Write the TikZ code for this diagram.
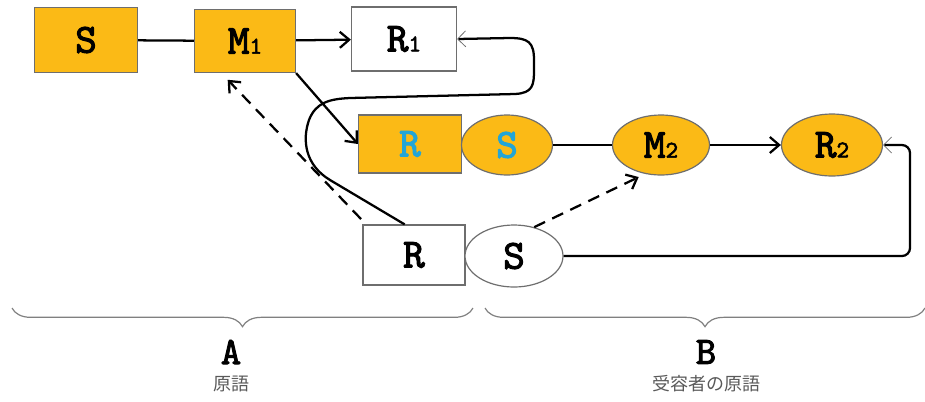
\documentclass[tikz,border=0pt]{standalone}
\usepackage{fontspec}
\newfontfamily\labfont{lmmono10-regular.otf}[FakeBold=2.5]
\newfontfamily\jpfont{Noto Sans CJK JP}
\usetikzlibrary{arrows.meta,shapes.geometric,decorations.pathreplacing,calc}
\definecolor{gold}{RGB}{251,186,22}
\definecolor{edge}{RGB}{110,110,110}
\definecolor{cyantext}{RGB}{35,165,215}
\newcommand{\lab}[2]{{\labfont #1{\fontsize{18}{18}\selectfont #2}}}
\tikzset{
  every node/.style={font=\labfont\fontsize{31}{31}\selectfont},
  fbox/.style={draw=edge, line width=0.9pt, rectangle, minimum width=#1*0.75pt, inner sep=0pt},
  ebox/.style={draw=edge, line width=0.9pt, ellipse, inner sep=0pt},
  link/.style={line width=1.7pt, black},
  barb/.style={-{Straight Barb[length=7pt,width=12pt,line width=1.7pt]}},
  thinbarb/.style={-{Straight Barb[length=6pt,width=12pt,line width=0.6pt,color=edge]}},
  brace/.style={decorate, decoration={brace, mirror, amplitude=14pt}, draw=gray, line width=0.9pt},
  captext/.style={font=\labfont\fontsize{29}{29}\selectfont},
  jp/.style={font=\jpfont\fontsize{13.5}{13.5}\selectfont, text=gray!70!black}
}
\begin{document}
\begin{tikzpicture}[x=0.75pt,y=-0.75pt]
\useasboundingbox (0,0) rectangle (925,401);
% source row
\node[fbox=103, fill=gold, minimum height=65*0.75pt] (S) at (86,40) {S};
\node[fbox=101, fill=gold, minimum height=63*0.75pt] (M1) at (245,41) {\lab{M}{1}};
\node[fbox=105, fill=white, minimum height=64*0.75pt] (R1) at (404,39) {\lab{R}{1}};
% receptor's source pair
\node[fbox=103, fill=gold, minimum height=58*0.75pt] (Ro) at (410,144) {\textcolor{cyantext}{R}};
\node[ebox, fill=gold, minimum width=91*0.75pt, minimum height=60*0.75pt] (So) at (507,145) {\textcolor{cyantext}{S}};
\node[ebox, fill=gold, minimum width=97*0.75pt, minimum height=60*0.75pt] (M2) at (661,145) {\lab{M}{2}};
\node[ebox, fill=gold, minimum width=101*0.75pt, minimum height=62*0.75pt] (R2) at (832,145) {\lab{R}{2}};
% lower pair
\node[fbox=102, fill=white, minimum height=60*0.75pt] (Rw) at (414,255) {R};
\node[ebox, fill=white, minimum width=98*0.75pt, minimum height=62*0.75pt] (Sw) at (514,256) {S};

% connectors
\draw[link] (S) -- (M1);
\draw[link, barb] (M1) -- (R1);
\draw[link, barb] (M1.south east) -- (Ro.west);
\draw[link] (So) -- (M2);
\draw[link, barb] (M2) -- (R2);
\draw[link, thinbarb] ([xshift=-7pt]Rw.north) -- (330,180)
  .. controls (305,165) and (302,140) .. (309,120)
  .. controls (316,102) and (330,99) .. (350,98)
  -- (515,94)
  .. controls (533,93) and (534,85) .. (534,70)
  -- (534,60)
  .. controls (534,42) and (528,38) .. (510,38)
  -- (R1.east);
\draw[link, dashed, dash pattern=on 9pt off 6pt, barb] ([xshift=-1pt,yshift=4pt]Rw.north west) -- ([xshift=-13pt,yshift=-5pt]M1.south);
\draw[link, dashed, dash pattern=on 9pt off 6pt, barb] (Sw.55) -- ([shift={(-2pt,-3pt)}]M2.235);
\coordinate (turn) at (910,256);
\draw[link, thinbarb, rounded corners=6pt] (Sw.east) -- (turn) |- (R2.east);

% braces and captions
\draw[brace] (12,308) -- (473,308);
\draw[brace] (485,308) -- (925,308);
\node[captext] (A) at (231,352) {A};
\node[jp] (Ajp) at (231,384) {原語};
\node[captext] (B) at (706,352) {B};
\node[jp] (Bjp) at (706,384) {受容者の原語};
\end{tikzpicture}
\end{document}
